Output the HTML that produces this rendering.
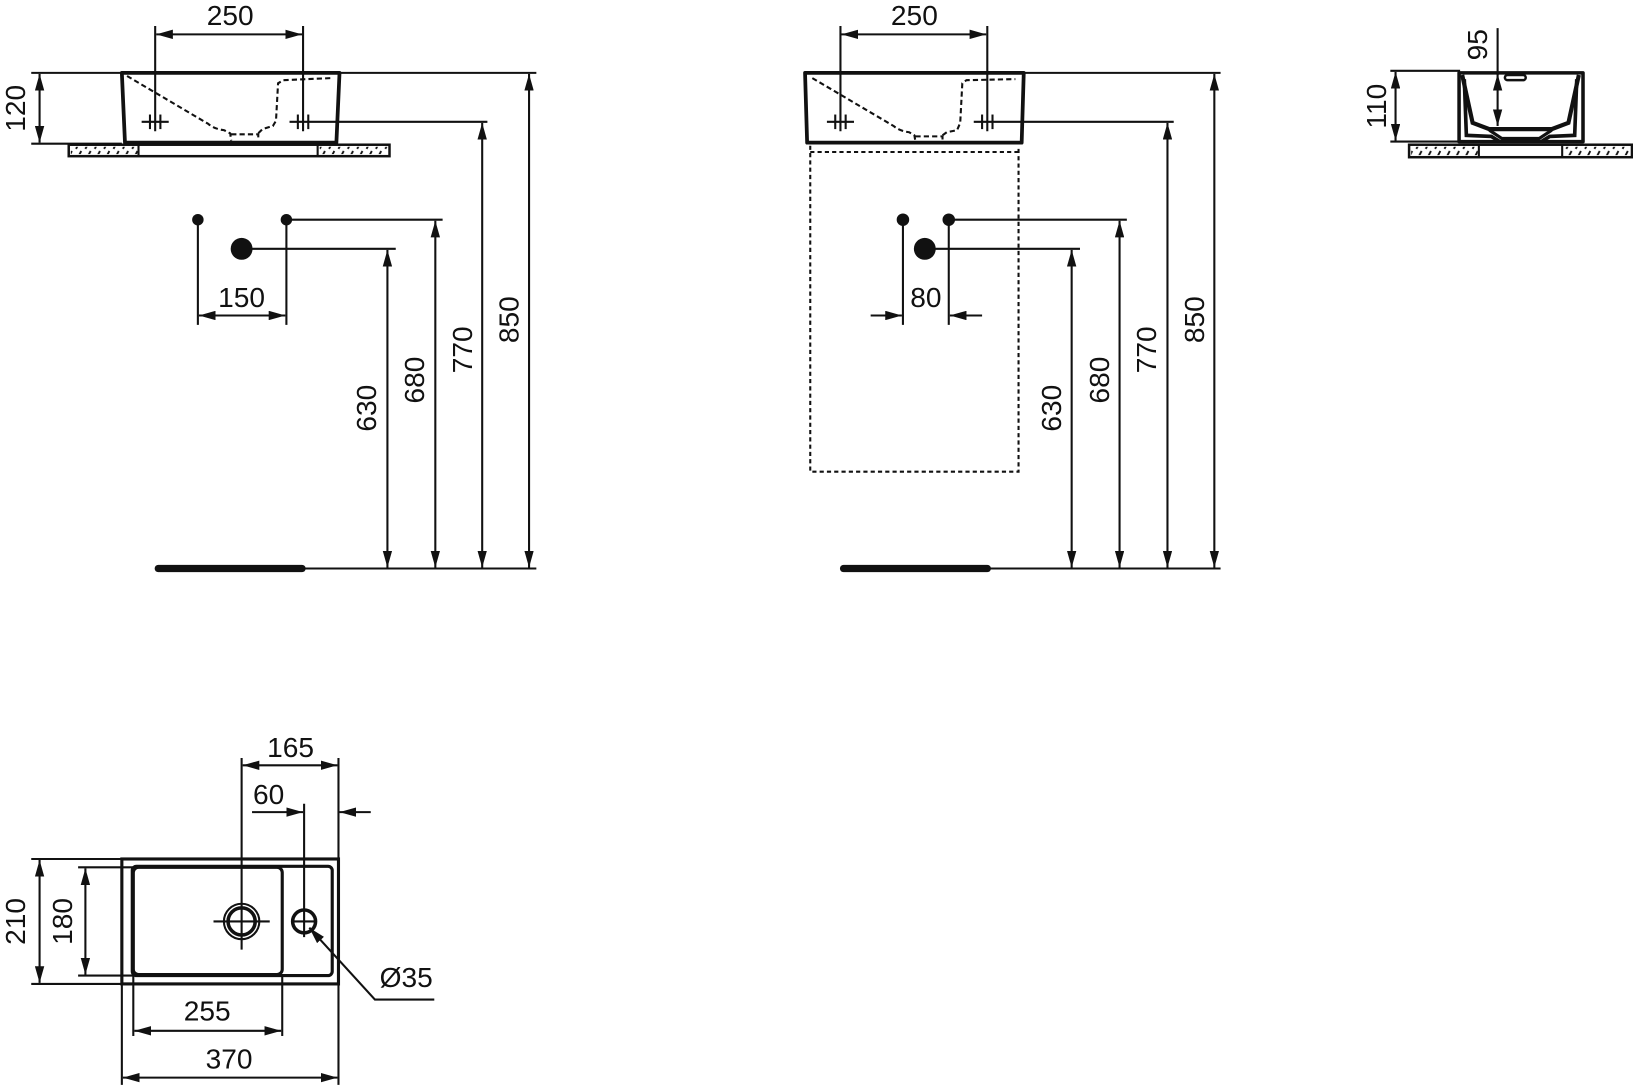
<!DOCTYPE html>
<html><head><meta charset="utf-8"><style>
html,body{margin:0;padding:0;background:#fff;}
svg{display:block;}
text{font-family:"Liberation Sans",sans-serif;font-size:27px;fill:#111;}
</style></head><body>
<svg width="1633" height="1087" viewBox="0 0 1568 1044" preserveAspectRatio="none" xmlns="http://www.w3.org/2000/svg">
<defs>
<marker id="a" viewBox="0 0 16 9" refX="16" refY="4.5" markerWidth="16" markerHeight="9" orient="auto-start-reverse" markerUnits="userSpaceOnUse"><path d="M0,0 L16,4.5 L0,9 z" fill="#111"/></marker>
<pattern id="h" width="9" height="12" patternUnits="userSpaceOnUse"><path d="M1,11 L6,1" stroke="#111" stroke-width="1.8"/></pattern>
</defs>
<g stroke="#111" stroke-width="2" fill="none">
<!-- LEFT VIEW -->
<line x1="30" y1="70" x2="515" y2="70"/>
<line x1="30" y1="138" x2="117" y2="138"/>
<line x1="38" y1="71" x2="38" y2="137" marker-start="url(#a)" marker-end="url(#a)"/>
<path d="M117,70 H326 L323,137 H120 Z" stroke-width="3.6" stroke-linejoin="round"/>
<rect x="66" y="139" width="308" height="11" stroke-width="2.4"/>
<rect x="68" y="141" width="64" height="7" fill="url(#h)" stroke="none"/>
<rect x="307" y="141" width="65" height="7" fill="url(#h)" stroke="none"/>
<line x1="133" y1="139" x2="133" y2="150"/><line x1="305" y1="139" x2="305" y2="150"/>
<path d="M122,73 L200,119 Q206,124 215,125 L221,128 L222,135 M222,129 H248 V135 M248,128 L252,124 L262,121 L265,116 L267,80 L272,77 L318,75" stroke-dasharray="5,3"/>
<line x1="149" y1="25" x2="149" y2="126"/><line x1="291" y1="25" x2="291" y2="126"/>
<line x1="150" y1="33" x2="290" y2="33" marker-start="url(#a)" marker-end="url(#a)"/>
<line x1="136" y1="117" x2="162" y2="117"/><line x1="144" y1="110" x2="144" y2="124"/><line x1="154" y1="110" x2="154" y2="124"/>
<line x1="278" y1="117" x2="468" y2="117"/><line x1="286" y1="110" x2="286" y2="124"/><line x1="296" y1="110" x2="296" y2="124"/>
<line x1="190" y1="211" x2="190" y2="312"/><line x1="275" y1="211" x2="275" y2="312"/>
<line x1="191" y1="303" x2="274" y2="303" marker-start="url(#a)" marker-end="url(#a)"/>
<line x1="275" y1="211" x2="425" y2="211"/><line x1="232" y1="239" x2="380" y2="239"/>
<line x1="372" y1="240" x2="372" y2="545" marker-start="url(#a)" marker-end="url(#a)"/>
<line x1="418" y1="212" x2="418" y2="545" marker-start="url(#a)" marker-end="url(#a)"/>
<line x1="463" y1="118" x2="463" y2="545" marker-start="url(#a)" marker-end="url(#a)"/>
<line x1="508" y1="71" x2="508" y2="545" marker-start="url(#a)" marker-end="url(#a)"/>
<line x1="152" y1="546" x2="290" y2="546" stroke-width="7" stroke-linecap="round"/>
<line x1="290" y1="546" x2="515" y2="546"/>
<!-- MIDDLE VIEW -->
<line x1="773" y1="70" x2="1172" y2="70"/>
<path d="M773,70 H983 L981,137 H775 Z" stroke-width="3.6" stroke-linejoin="round"/>
<path d="M778,140 V453 H978 V140 M778,146 H978" stroke-dasharray="4,3"/>
<path d="M780,75 L858,121 Q864,126 873,127 L878,130 L879,136 M879,131 H905 V136 M905,130 L909,127 L919,125 L922,118 L924,80 L928,77 L975,76" stroke-dasharray="5,3"/>
<line x1="807" y1="25" x2="807" y2="126"/><line x1="948" y1="25" x2="948" y2="126"/>
<line x1="808" y1="33" x2="947" y2="33" marker-start="url(#a)" marker-end="url(#a)"/>
<line x1="794" y1="117" x2="820" y2="117"/><line x1="802" y1="110" x2="802" y2="124"/><line x1="812" y1="110" x2="812" y2="124"/>
<line x1="935" y1="117" x2="1127" y2="117"/><line x1="943" y1="110" x2="943" y2="124"/><line x1="953" y1="110" x2="953" y2="124"/>
<line x1="867" y1="211" x2="867" y2="312"/><line x1="911" y1="211" x2="911" y2="312"/>
<line x1="836" y1="303" x2="866" y2="303" marker-end="url(#a)"/>
<line x1="943" y1="303" x2="912" y2="303" marker-end="url(#a)"/>
<line x1="911" y1="211" x2="1082" y2="211"/><line x1="888" y1="239" x2="1037" y2="239"/>
<line x1="1029" y1="240" x2="1029" y2="545" marker-start="url(#a)" marker-end="url(#a)"/>
<line x1="1075" y1="212" x2="1075" y2="545" marker-start="url(#a)" marker-end="url(#a)"/>
<line x1="1121" y1="118" x2="1121" y2="545" marker-start="url(#a)" marker-end="url(#a)"/>
<line x1="1166" y1="71" x2="1166" y2="545" marker-start="url(#a)" marker-end="url(#a)"/>
<line x1="810" y1="546" x2="948" y2="546" stroke-width="7" stroke-linecap="round"/>
<line x1="948" y1="546" x2="1172" y2="546"/>
<!-- RIGHT VIEW -->
<line x1="1335" y1="68" x2="1402" y2="68"/><line x1="1335" y1="136" x2="1402" y2="136"/>
<line x1="1340" y1="69" x2="1340" y2="135" marker-start="url(#a)" marker-end="url(#a)"/>
<rect x="1353" y="139" width="214" height="12" stroke-width="2.4"/>
<rect x="1355" y="141" width="64" height="8" fill="url(#h)" stroke="none"/>
<rect x="1502" y="141" width="63" height="8" fill="url(#h)" stroke="none"/>
<line x1="1420" y1="139" x2="1420" y2="151"/><line x1="1500" y1="139" x2="1500" y2="151"/>
<path d="M1401,70 H1520 V136 H1401 Z" stroke-width="3.4" stroke-linejoin="round"/>
<path d="M1404,72 L1414,118 L1430,124 H1490 L1506,118 L1516,72" stroke-width="4"/>
<path d="M1406,76 L1408,130 L1432,131 L1440,136 M1514,76 L1512,130 L1488,131 L1480,136" stroke-width="3.5"/>
<path d="M1430,125 L1442,133 H1478 L1490,125" stroke-width="3"/>
<rect x="1445" y="72" width="20" height="5" rx="2.5" stroke-width="2.4"/>
<line x1="1438" y1="27" x2="1438" y2="72"/>
<line x1="1438" y1="71" x2="1438" y2="121" marker-start="url(#a)" marker-end="url(#a)"/>
<!-- BOTTOM VIEW -->
<rect x="117" y="825" width="208" height="120" stroke-width="3"/>
<rect x="127" y="832" width="192" height="105" rx="4" stroke-width="3"/>
<rect x="128" y="833" width="143" height="103" rx="5" stroke-width="3"/>
<circle cx="232" cy="885" r="17" stroke-width="2"/>
<circle cx="232" cy="885" r="13" stroke-width="3.4"/>
<circle cx="292" cy="885" r="11" stroke-width="3.4"/>
<line x1="205" y1="885" x2="259" y2="885"/>
<line x1="232" y1="728" x2="232" y2="912"/>
<line x1="280" y1="885" x2="304" y2="885"/>
<line x1="292" y1="772" x2="292" y2="900"/>
<line x1="325" y1="728" x2="325" y2="825"/>
<line x1="233" y1="735" x2="324" y2="735" marker-start="url(#a)" marker-end="url(#a)"/>
<line x1="242" y1="780" x2="291" y2="780" marker-end="url(#a)"/>
<line x1="356" y1="780" x2="326" y2="780" marker-end="url(#a)"/>
<line x1="30" y1="825" x2="117" y2="825"/><line x1="30" y1="945" x2="117" y2="945"/>
<line x1="38" y1="826" x2="38" y2="944" marker-start="url(#a)" marker-end="url(#a)"/>
<line x1="75" y1="833" x2="128" y2="833"/><line x1="75" y1="937" x2="128" y2="937"/>
<line x1="82" y1="834" x2="82" y2="936" marker-start="url(#a)" marker-end="url(#a)"/>
<line x1="128" y1="937" x2="128" y2="995"/><line x1="271" y1="937" x2="271" y2="995"/>
<line x1="129" y1="990" x2="270" y2="990" marker-start="url(#a)" marker-end="url(#a)"/>
<line x1="117" y1="945" x2="117" y2="1042"/><line x1="325" y1="945" x2="325" y2="1042"/>
<line x1="118" y1="1035" x2="324" y2="1035" marker-start="url(#a)" marker-end="url(#a)"/>
<polyline points="417,960 360,960 297,891" marker-end="url(#a)"/>
</g>
<g stroke="none" fill="#111">
<circle cx="190" cy="211" r="5.5"/><circle cx="275" cy="211" r="5.5"/><circle cx="232" cy="239" r="10.5"/>
<circle cx="867" cy="211" r="6"/><circle cx="911" cy="211" r="6"/><circle cx="888" cy="239" r="10.5"/>
</g>
<text x="221" y="24" text-anchor="middle">250</text>
<text x="878" y="24" text-anchor="middle">250</text>
<text x="232" y="295" text-anchor="middle">150</text>
<text x="889" y="295" text-anchor="middle">80</text>
<text x="279" y="727" text-anchor="middle">165</text>
<text x="258" y="772" text-anchor="middle">60</text>
<text x="199" y="980" text-anchor="middle">255</text>
<text x="220" y="1026" text-anchor="middle">370</text>
<text x="390" y="948" text-anchor="middle">Ø35</text>
<text transform="translate(24,104) rotate(-90)" text-anchor="middle">120</text>
<text transform="translate(24,885) rotate(-90)" text-anchor="middle">210</text>
<text transform="translate(69,885) rotate(-90)" text-anchor="middle">180</text>
<text transform="translate(1331,102) rotate(-90)" text-anchor="middle">110</text>
<text transform="translate(1428,43) rotate(-90)" text-anchor="middle">95</text>
<text transform="translate(361,392) rotate(-90)" text-anchor="middle">630</text>
<text transform="translate(407,365) rotate(-90)" text-anchor="middle">680</text>
<text transform="translate(453,336) rotate(-90)" text-anchor="middle">770</text>
<text transform="translate(498,307) rotate(-90)" text-anchor="middle">850</text>
<text transform="translate(1019,392) rotate(-90)" text-anchor="middle">630</text>
<text transform="translate(1065,365) rotate(-90)" text-anchor="middle">680</text>
<text transform="translate(1110,336) rotate(-90)" text-anchor="middle">770</text>
<text transform="translate(1156,307) rotate(-90)" text-anchor="middle">850</text>
</svg>
</body></html>
